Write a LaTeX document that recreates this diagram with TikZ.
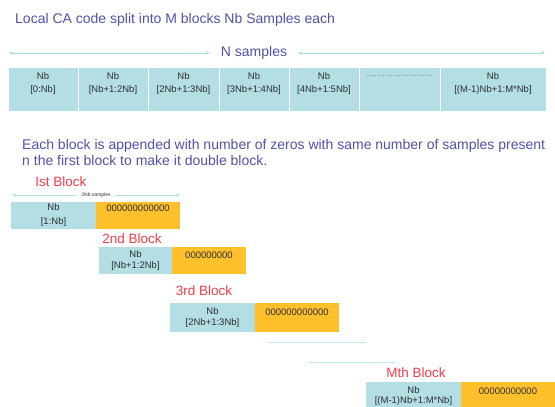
\documentclass[tikz,border=0pt]{standalone}
\usepackage{fontspec}
\setmainfont{Liberation Sans}
\usetikzlibrary{positioning,arrows.meta}
\definecolor{cellc}{HTML}{B3DEE4}
\definecolor{zeroc}{HTML}{FFC12B}
\definecolor{dimc}{HTML}{A9DCE2}
\definecolor{headc}{HTML}{5151A8}
\definecolor{blkred}{HTML}{EE3D4A}
\definecolor{txtc}{HTML}{2E2E2E}
\tikzset{
	cell/.style={fill=cellc, draw=white, line width=1pt, inner sep=0pt, minimum height=44pt, align=center, text=txtc, font=\fontsize{9.5}{13}\selectfont},
	blk/.style={fill=cellc, inner sep=0pt, outer sep=0pt, anchor=north west, align=center, text=txtc, font=\fontsize{9.5}{11}\selectfont},
	zro/.style={blk, fill=zeroc},
	head/.style={text=headc, font=\fontsize{14}{16}\selectfont, inner sep=0pt},
	blkname/.style={text=blkred, font=\fontsize{13.5}{16}\selectfont, inner sep=0pt},
	dimline/.style={draw=dimc, line width=0.9pt},
	tip/.tip={Stealth[length=4pt,width=3.5pt]}
}
\begin{document}
\begin{tikzpicture}[x=1pt, y=-1pt, line join=round, line cap=round]
	\clip (0,0) rectangle (555,407); % page size
	\node[head, anchor=west] (title) at (15,20) {Local CA code split into M blocks Nb Samples each};
	% N samples
	\node[head, inner xsep=11pt] (nsmp) at (254,53) {N samples};
	\coordinate (nL) at (9,53);
	\coordinate (nR) at (545,53);
	\draw[dimline, tip-tip] (nL) -- (nsmp.west);
	\draw[dimline, tip-tip] (nsmp.east) -- (nR);
	\foreach \i/\xa/\xb/\txt in {1/8/78/{Nb\\{[0:Nb]}}, 2/78/148/{Nb\\{[Nb+1:2Nb]}}, 3/148/219/{Nb\\{[2Nb+1:3Nb]}},
		4/219/289/{Nb\\{[3Nb+1:4Nb]}}, 5/289/359/{Nb\\{[4Nb+1:5Nb]}}, 6/359/440/{{\color{gray}.........................}\\\mbox{}},
		7/440/546/{Nb\\{[(M-1)Nb+1:M*Nb]}}}
	\node[cell, minimum width={\xb pt-\xa pt}] (c\i) at ({(\xa+\xb)/2},89) {\txt\\\mbox{}};
	\node[head, anchor=north west, align=left] (para) at (22,139) {Each block is appended with number of zeros with same number of samples present\\n the first block to make it double block.};
	% 1st block
	\node[blkname] (l1) at (61,182) {Ist Block};
	\node[inner xsep=5pt, inner ysep=0pt, text=txtc, font=\fontsize{5}{6}\selectfont] (twonb) at (96,195) {2Nb samples};
	\coordinate (tL) at (12,195);
	\coordinate (tR) at (180,195);
	\draw[dimline, tip-] (tL) -- (twonb.west);
	\draw[dimline, -tip] (twonb.east) -- (tR);
	\node[blk, minimum width=85pt, minimum height=27pt, font=\fontsize{9.5}{14}\selectfont] (b1) at (11,202) {Nb\\{[1:Nb]}};
	\node[zro, minimum width=84pt, minimum height=27pt, font=\fontsize{9.5}{14}\selectfont, right=0pt of b1] (z1) {000000000000\\\mbox{}};
	% 2nd block
	\node[blkname] (l2) at (132,239) {2nd Block};
	\node[blk, minimum width=73pt, minimum height=27pt] (b2) at (99,247) {Nb\\{[Nb+1:2Nb]}};
	\node[zro, minimum width=74pt, minimum height=27pt, right=0pt of b2] (z2) {000000000\\\mbox{}};
	% 3rd block
	\node[blkname] (l3) at (204,291) {3rd Block};
	\node[blk, minimum width=85pt, minimum height=29pt] (b3) at (170,303) {Nb\\{[2Nb+1:3Nb]}};
	\node[zro, minimum width=84pt, minimum height=29pt, right=0pt of b3] (z3) {000000000000\\\mbox{}};
	\draw[dimc!70, line width=1pt] (268,342) -- (366,342) (310,362) -- (395,362);
	% Mth block
	\node[blkname] (lm) at (416,373) {Mth Block};
	\node[blk, minimum width=95pt, minimum height=29pt, font=\fontsize{9.5}{10}\selectfont] (bm) at (366,382) {Nb\\{[(M-1)Nb+1:M*Nb]}};
	\node[zro, minimum width=94pt, minimum height=29pt, font=\fontsize{9.5}{10}\selectfont, right=0pt of bm] (zm) {00000000000\\\mbox{}};
\end{tikzpicture}
\end{document}
